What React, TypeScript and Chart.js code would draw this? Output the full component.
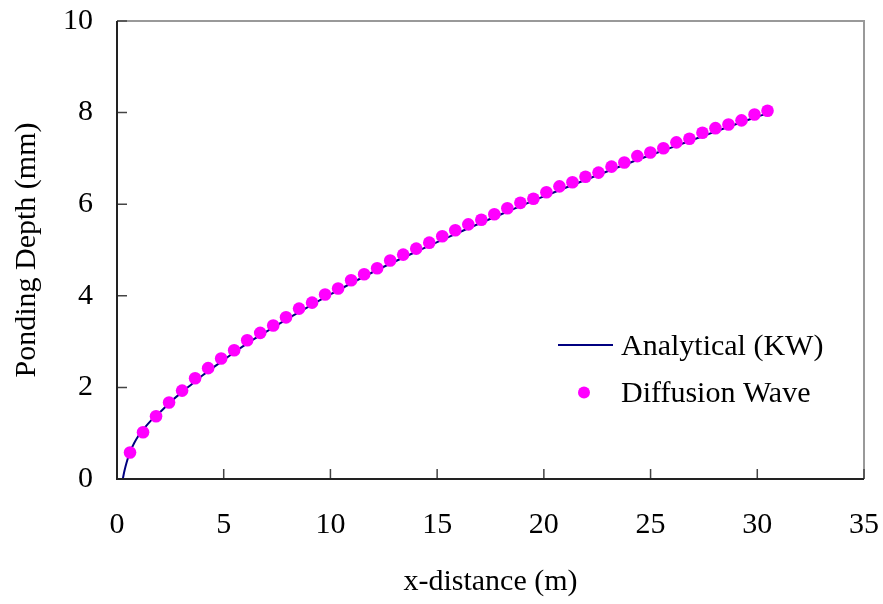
import React, { useEffect, useRef } from "react";
import { Chart, registerables } from "chart.js";

Chart.register(...registerables);

const FONT = '"Liberation Serif", "Times New Roman", serif';

const X_TITLE = "x-distance (m)";
const Y_TITLE = "Ponding Depth (mm)";
const SERIES_KW = "Analytical (KW)";
const SERIES_DW = "Diffusion Wave";

const X_TICKS = [0, 5, 10, 15, 20, 25, 30, 35];
const Y_TICKS = [0, 2, 4, 6, 8, 10];

// Diffusion wave (points)
const DW_X = [
  0.61, 1.22, 1.83, 2.44, 3.05, 3.66, 4.27, 4.88, 5.49, 6.1,
  6.71, 7.32, 7.92, 8.53, 9.14, 9.75, 10.36, 10.97, 11.58, 12.19,
  12.8, 13.41, 14.02, 14.63, 15.24, 15.85, 16.46, 17.07, 17.68, 18.29,
  18.9, 19.51, 20.12, 20.73, 21.34, 21.95, 22.56, 23.17, 23.77, 24.38,
  24.99, 25.6, 26.21, 26.82, 27.43, 28.04, 28.65, 29.26, 29.87, 30.48,
];
const DW_Y = [
  0.58, 1.02, 1.37, 1.67, 1.93, 2.2, 2.42, 2.63, 2.81, 3.03,
  3.19, 3.35, 3.53, 3.72, 3.85, 4.03, 4.16, 4.34, 4.47, 4.6,
  4.77, 4.9, 5.03, 5.16, 5.3, 5.43, 5.56, 5.66, 5.78, 5.91,
  6.03, 6.12, 6.26, 6.39, 6.48, 6.6, 6.69, 6.82, 6.91, 7.05,
  7.13, 7.22, 7.35, 7.43, 7.56, 7.66, 7.74, 7.83, 7.96, 8.04,
];

// Analytical kinematic wave (line)
const KW_X = [
  0.27, 0.35, 0.45, 0.6, 0.8, 1.0, 1.3, 1.6, 2.0, 2.5, 3.0, 3.5, 4, 5, 6, 7, 8, 9, 10,
  12, 14, 16, 18, 20, 22, 24, 26, 28, 30, 30.4,
];
const KW_Y = [
  0, 0.18, 0.36, 0.58, 0.78, 0.94, 1.12, 1.28, 1.45, 1.68, 1.88, 2.07, 2.26, 2.6, 2.93,
  3.22, 3.5, 3.77, 4.03, 4.52, 4.96, 5.38, 5.78, 6.17, 6.54, 6.9, 7.24, 7.58, 7.91, 7.97,
];

const framePlugin = {
  id: "frameTicks",
  afterDatasetsDraw(chart: any) {
    const { ctx, chartArea } = chart;
    const { left, right, top, bottom } = chartArea;
    const xs = chart.scales.x;
    const ys = chart.scales.y;
    ctx.save();
    ctx.strokeStyle = "#999999";
    ctx.lineWidth = 2;
    ctx.beginPath();
    ctx.moveTo(left, top);
    ctx.lineTo(right, top);
    ctx.lineTo(right, bottom);
    ctx.stroke();
    ctx.strokeStyle = "#444444";
    ctx.lineWidth = 1.5;
    ctx.beginPath();
    X_TICKS.forEach((v) => {
      const px = xs.getPixelForValue(v);
      ctx.moveTo(px, bottom);
      ctx.lineTo(px, bottom - 10);
    });
    Y_TICKS.forEach((v) => {
      const py = ys.getPixelForValue(v);
      ctx.moveTo(left, py);
      ctx.lineTo(left + 10, py);
    });
    ctx.stroke();
    ctx.strokeStyle = "#222222";
    ctx.lineWidth = 2;
    ctx.beginPath();
    ctx.moveTo(left, top);
    ctx.lineTo(left, bottom);
    ctx.lineTo(right, bottom);
    ctx.stroke();
    ctx.restore();
  },
};

const legendPlugin = {
  id: "customLegend",
  afterDraw(chart: any) {
    const { ctx } = chart;
    ctx.save();
    ctx.strokeStyle = "#000080";
    ctx.lineWidth = 2;
    ctx.beginPath();
    ctx.moveTo(558, 345);
    ctx.lineTo(613, 345);
    ctx.stroke();
    ctx.fillStyle = "#FF00FF";
    ctx.beginPath();
    ctx.arc(584, 392.5, 6, 0, Math.PI * 2);
    ctx.fill();
    ctx.fillStyle = "#000000";
    ctx.font = `30px ${FONT}`;
    ctx.textAlign = "left";
    ctx.textBaseline = "alphabetic";
    ctx.fillText(SERIES_KW, 621, 355);
    ctx.fillText(SERIES_DW, 621, 402);
    ctx.restore();
  },
};

export default function App() {
  const ref = useRef<HTMLCanvasElement | null>(null);

  useEffect(() => {
    if (!ref.current) return;
    const chart = new Chart(ref.current, {
      type: "scatter",
      data: {
        datasets: [
          {
            label: SERIES_DW,
            data: DW_X.map((x, i) => ({ x, y: DW_Y[i] })),
            showLine: false,
            pointRadius: 6.3,
            pointBackgroundColor: "#FF00FF",
            pointBorderWidth: 0,
            backgroundColor: "#FF00FF",
            order: 0,
          },
          {
            label: SERIES_KW,
            data: KW_X.map((x, i) => ({ x, y: KW_Y[i] })),
            showLine: true,
            pointRadius: 0,
            borderColor: "#000080",
            borderWidth: 2,
            cubicInterpolationMode: "monotone",
            order: 1,
          },
        ],
      },
      options: {
        animation: false,
        responsive: false,
        layout: { padding: { top: 21, right: 19, left: 0, bottom: 0 } },
        plugins: { legend: { display: false }, tooltip: { enabled: false } },
        scales: {
          x: {
            type: "linear",
            min: 0,
            max: 35,
            afterFit: (s: any) => {
              s.height = 125;
              s.paddingLeft = 0;
              s.paddingRight = 0;
              s.paddingTop = 0;
              s.paddingBottom = 0;
            },
            afterBuildTicks: (s: any) => {
              s.ticks = X_TICKS.map((v) => ({ value: v }));
            },
            ticks: {
              color: "#000",
              font: { family: FONT, size: 30 },
              padding: 28,
              maxRotation: 0,
              autoSkip: false,
            },
            grid: { display: false, drawTicks: false },
            border: { display: false },
            title: {
              display: true,
              text: X_TITLE,
              color: "#000",
              font: { family: FONT, size: 30 },
              padding: { top: 0, bottom: 4 },
            },
          },
          y: {
            type: "linear",
            min: 0,
            max: 10,
            afterFit: (s: any) => {
              s.width = 117;
              s.paddingLeft = 0;
              s.paddingRight = 0;
              s.paddingTop = 0;
              s.paddingBottom = 0;
            },
            afterBuildTicks: (s: any) => {
              s.ticks = Y_TICKS.map((v) => ({ value: v }));
            },
            ticks: {
              color: "#000",
              font: { family: FONT, size: 30 },
              padding: 24,
              autoSkip: false,
            },
            grid: { display: false, drawTicks: false },
            border: { display: false },
            title: {
              display: true,
              text: Y_TITLE,
              color: "#000",
              font: { family: FONT, size: 30 },
              padding: { top: 9, bottom: 0 },
            },
          },
        },
      },
      plugins: [framePlugin, legendPlugin],
    });
    return () => chart.destroy();
  }, []);

  return (
    <div style={{ position: "fixed", left: 0, top: 0, width: 883, height: 604, background: "#fff" }}>
      <canvas ref={ref} width={883} height={604} style={{ display: "block" }} />
    </div>
  );
}
